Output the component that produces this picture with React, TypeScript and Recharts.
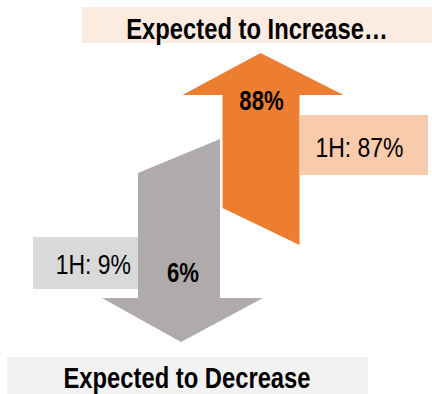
import { BarChart, Bar, XAxis, YAxis, LabelList } from 'recharts';

const categories = ['Expected to Decrease', 'Expected to Increase…'];
const directions = ['down', 'up'];
const currentShare = [6, 88];
const firstHalfShare = [9, 87];
const priorPeriod = '1H';

const data = categories.map((name, i) => ({
  name,
  dir: directions[i],
  value: currentShare[i],
  prior: firstHalfShare[i],
}));

const W = 432;
const H = 394;
const MARGIN = { top: 53, right: 131, bottom: 52, left: 138 };
const TOP = MARGIN.top;
const BOTTOM = H - MARGIN.bottom;
const FONT = "'Liberation Sans', Arial, sans-serif";

const ORANGE = '#ed7d31';
const GREY = '#afabab';

// no narrow font available, so squeeze Liberation Sans horizontally
function NarrowText({ x, y, anchor = 'start', size, bold = false, children }: any) {
  return (
    <text
      transform={`translate(${x} ${y}) scale(0.82 1)`}
      textAnchor={anchor}
      fontFamily={FONT}
      fontWeight={bold ? 'bold' : 'normal'}
      fontSize={size}
      fill="#000"
    >
      {children}
    </text>
  );
}

function ArrowShape(props: any) {
  const { x, width, payload } = props;
  const l = x;
  const r = x + width;
  const cx = x + width / 2;
  if (payload.dir === 'up') {
    const headBase = TOP + 42;
    const pts = [
      [cx, TOP],
      [r + 43, headBase],
      [r - 1, headBase],
      [r - 1, TOP + 192],
      [l + 2, TOP + 155],
      [l + 2, headBase],
      [l - 38, headBase],
    ];
    return <polygon points={pts.map((p) => p.join(',')).join(' ')} fill={ORANGE} />;
  }
  const headBase = BOTTOM - 44;
  const pts = [
    [l - 1, TOP + 120],
    [r + 1, TOP + 86],
    [r + 1, headBase],
    [r + 44, headBase],
    [cx + 2, BOTTOM],
    [l - 37, headBase],
    [l - 1, headBase],
  ];
  return <polygon points={pts.map((p) => p.join(',')).join(' ')} fill={GREY} />;
}

function ValueLabel(props: any) {
  const { x, width, value, index } = props;
  const d = data[index];
  const cx = x + width / 2;
  if (d.dir === 'up') {
    return (
      <NarrowText x={cx + 1} y={TOP + 57} anchor="middle" size={27} bold>
        {value}%
      </NarrowText>
    );
  }
  return (
    <NarrowText x={cx + 4} y={BOTTOM - 60} anchor="middle" size={27} bold>
      {value}%
    </NarrowText>
  );
}

function PriorLabel(props: any) {
  const { x, width, value, index } = props;
  const d = data[index];
  const label = `${priorPeriod}: ${value}%`;
  if (d.dir === 'up') {
    const bx = x + width - 1;
    return (
      <g>
        <rect x={bx} y={115} width={W - 4 - bx} height={60} fill="#f8cbad" />
        <NarrowText x={bx + 16} y={157} size={28}>
          {label}
        </NarrowText>
      </g>
    );
  }
  return (
    <g>
      <rect x={33} y={237} width={x - 1 - 33} height={52} fill="#d9d9d9" />
      <NarrowText x={x - 8} y={274} anchor="end" size={28}>
        {label}
      </NarrowText>
    </g>
  );
}

export default function App() {
  return (
    <div style={{ position: 'absolute', left: 0, top: 0, width: W, height: H, background: '#fff' }}>
      <BarChart width={W} height={H} data={data} margin={MARGIN} barCategoryGap={1}>
        <XAxis dataKey="name" hide />
        <YAxis hide domain={[0, 100]} />
        <rect x={82} y={7} width={350} height={36} fill="#fcebe1" />
        <NarrowText x={257} y={39} anchor="middle" size={29} bold>
          {categories[1]}
        </NarrowText>
        <rect x={7} y={357} width={361} height={37} fill="#f2f2f2" />
        <NarrowText x={187} y={388} anchor="middle" size={29} bold>
          {categories[0]}
        </NarrowText>
        <Bar dataKey="value" shape={ArrowShape} isAnimationActive={false}>
          <LabelList dataKey="value" content={ValueLabel} />
          <LabelList dataKey="prior" content={PriorLabel} />
        </Bar>
      </BarChart>
    </div>
  );
}
